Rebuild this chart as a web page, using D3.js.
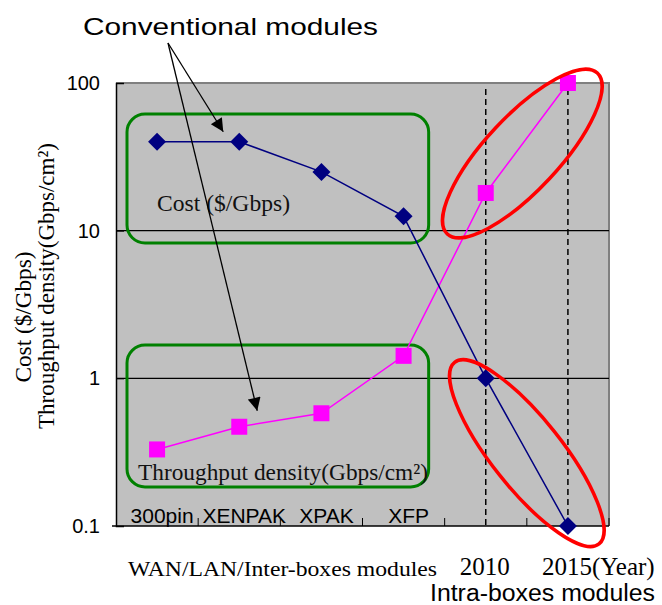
<!DOCTYPE html>
<html>
<head>
<meta charset="utf-8">
<script src="https://cdn.jsdelivr.net/npm/d3@7"></script>
<style>
  body { margin: 0; background: #fff; }
  .sans { font-family: "Liberation Sans", Arial, sans-serif; }
  .serif { font-family: "Liberation Serif", "Times New Roman", serif; }
</style>
</head>
<body>
<script>
// data
var categories = ["300pin", "XENPAK", "XPAK", "XFP", "2010", "2015"];
var costValues = [40, 40, 25, 12.5, 1, 0.1];
var densityValues = [0.33, 0.47, 0.58, 1.42, 18, 100];
var yTicks = [0.1, 1, 10, 100];
var yTickLabels = ["0.1", "1", "10", "100"];
var gridValues = [1, 10];
var yearCategories = ["2010", "2015"];
var yearLabels = ["2010", "2015(Year)"];

// set the dimensions of the graph
var width = 662, height = 605;
var plot = {left: 116, right: 609, top: 83, bottom: 526};

var x = d3.scaleBand().domain(categories).range([plot.left, plot.right]).padding(0);
var y = d3.scaleLog().domain([0.1, 100]).range([plot.bottom, plot.top]);
var bw = x.bandwidth();
function cx(c) { return x(c) + bw / 2; }

var svg = d3.select("body").append("svg")
    .attr("width", width)
    .attr("height", height);

// plot background
svg.append("rect")
    .attr("x", plot.left).attr("y", plot.top)
    .attr("width", plot.right - plot.left)
    .attr("height", plot.bottom - plot.top)
    .attr("fill", "#c0c0c0");

// gray frame top/right
svg.append("path")
    .attr("d", "M" + plot.left + "," + plot.top + "H" + plot.right + "V" + plot.bottom)
    .attr("fill", "none").attr("stroke", "#808080").attr("stroke-width", 2);

// gridlines
svg.selectAll(".grid").data(gridValues).enter().append("line")
    .attr("x1", plot.left).attr("x2", plot.right)
    .attr("y1", function(d) { return y(d); }).attr("y2", function(d) { return y(d); })
    .attr("stroke", "#000").attr("stroke-width", 1.3);

// dashed year lines
svg.selectAll(".year").data(yearCategories).enter().append("line")
    .attr("x1", cx).attr("x2", cx)
    .attr("y1", plot.top + 6).attr("y2", plot.bottom)
    .attr("stroke", "#000").attr("stroke-width", 1.5)
    .attr("stroke-dasharray", "6,4");

// axes
var yAxis = d3.axisRight(y).tickValues(yTicks).tickSize(8).tickFormat("");
svg.append("g")
    .attr("transform", "translate(" + plot.left + ",0)")
    .call(yAxis)
    .call(function(g) { g.select(".domain").attr("stroke-width", 1.5); });

svg.selectAll(".ylab").data(yTicks).enter().append("text")
    .attr("class", "sans")
    .attr("x", 100).attr("y", function(d) { return y(d) + 7; })
    .attr("text-anchor", "end").attr("font-size", 20)
    .text(function(d, i) { return yTickLabels[i]; });

var xAxis = d3.axisTop(x).tickSize(8).tickFormat("");
var gX = svg.append("g")
    .attr("transform", "translate(0," + plot.bottom + ")")
    .call(xAxis);
gX.select(".domain").attr("stroke-width", 1.5).attr("d", "M" + (plot.left - 4) + ",0H" + plot.right);
// ticks at band boundaries instead of centres
gX.selectAll(".tick").attr("transform", function(d) { return "translate(" + x(d) + ",0)"; });
gX.selectAll(".tick").filter(function(d, i) { return i === 0; }).remove();
gX.append("line").attr("x1", plot.right).attr("x2", plot.right).attr("y1", 0).attr("y2", -8).attr("stroke", "#000");

// category labels inside plot
svg.selectAll(".clab").data(categories.slice(0, 4)).enter().append("text")
    .attr("class", "sans")
    .attr("x", function(d) { return cx(d) + 5; }).attr("y", plot.bottom - 3)
    .attr("text-anchor", "middle").attr("font-size", 21)
    .text(function(d) { return d; });

// green boxes
var boxes = [
  {from: "300pin", to: "XFP", hi: 61.6, lo: 8.25},
  {from: "300pin", to: "XFP", hi: 1.68, lo: 0.184}
];
svg.selectAll(".box").data(boxes).enter().append("rect")
    .attr("x", function(d) { return x(d.from) + 11; })
    .attr("y", function(d) { return y(d.hi); })
    .attr("width", function(d) { return x(d.to) + bw - 16 - x(d.from) - 11; })
    .attr("height", function(d) { return y(d.lo) - y(d.hi); })
    .attr("rx", 18).attr("ry", 18)
    .attr("fill", "none").attr("stroke", "#008000").attr("stroke-width", 3);

svg.append("text").attr("class", "serif")
    .attr("x", 157).attr("y", 211).attr("font-size", 23)
    .attr("textLength", 133).attr("lengthAdjust", "spacingAndGlyphs")
    .attr("fill", "#111")
    .text("Cost ($/Gbps)");
svg.append("text").attr("class", "serif")
    .attr("x", 138).attr("y", 480).attr("font-size", 23)
    .attr("textLength", 290).attr("lengthAdjust", "spacingAndGlyphs")
    .attr("fill", "#111")
    .text("Throughput density(Gbps/cm²)");

// lines
var line = function(vals) {
  return d3.line()
    .x(function(d, i) { return cx(categories[i]); })
    .y(function(d) { return y(d); })(vals);
};
svg.append("path").attr("d", line(densityValues))
    .attr("fill", "none").attr("stroke", "#ff00ff").attr("stroke-width", 1.5);
svg.append("path").attr("d", line(costValues))
    .attr("fill", "none").attr("stroke", "#000080").attr("stroke-width", 1.5);

// markers
svg.selectAll(".sq").data(densityValues).enter().append("rect")
    .attr("x", function(d, i) { return cx(categories[i]) - 8; })
    .attr("y", function(d) { return y(d) - 8; })
    .attr("width", 16).attr("height", 16)
    .attr("fill", "#ff00ff");
svg.selectAll(".dm").data(costValues).enter().append("path")
    .attr("transform", function(d, i) { return "translate(" + cx(categories[i]) + "," + y(d) + ")"; })
    .attr("d", "M0,-9L9,0L0,9L-9,0Z")
    .attr("fill", "#000080");

// red ellipses around the intra-box points
function ellipse(vals, dx, dy, ang, rx, ry) {
  var x1 = cx("2010"), y1 = y(vals[4]), x2 = cx("2015"), y2 = y(vals[5]);
  svg.append("ellipse")
      .attr("transform", "translate(" + ((x1 + x2) / 2 + dx) + "," + ((y1 + y2) / 2 + dy) + ") rotate(" + ang + ")")
      .attr("rx", rx).attr("ry", ry)
      .attr("fill", "none").attr("stroke", "#ff0000").attr("stroke-width", 3.5);
}
ellipse(densityValues, -4.5, 15.5, -47, 110, 37);
ellipse(costValues, 0, 1, 51.5, 116, 35);

// arrows from the annotation
svg.append("defs").append("marker")
    .attr("id", "arrow").attr("viewBox", "0 0 10 10")
    .attr("refX", 10).attr("refY", 5)
    .attr("markerWidth", 16).attr("markerHeight", 13)
    .attr("markerUnits", "userSpaceOnUse")
    .attr("orient", "auto")
  .append("path").attr("d", "M0,0L10,5L0,10Z").attr("fill", "#000");

var arrowTargets = [
  [cx("XENPAK") - 16, y(costValues[1]) - 10],
  [cx("XENPAK") + 18, y(densityValues[1]) - 16]
];
svg.selectAll(".arrow").data(arrowTargets).enter().append("line")
    .attr("x1", 168).attr("y1", 43)
    .attr("x2", function(d) { return d[0]; }).attr("y2", function(d) { return d[1]; })
    .attr("stroke", "#000").attr("stroke-width", 1.3)
    .attr("marker-end", "url(#arrow)");

svg.append("text").attr("class", "sans")
    .attr("x", 83).attr("y", 35).attr("font-size", 24)
    .attr("textLength", 295).attr("lengthAdjust", "spacingAndGlyphs")
    .text("Conventional modules");

// y axis title
svg.append("text").attr("class", "serif")
    .attr("transform", "translate(31,317) rotate(-90)")
    .attr("text-anchor", "middle").attr("font-size", 23)
    .attr("textLength", 131).attr("lengthAdjust", "spacingAndGlyphs")
    .text("Cost ($/Gbps)");
svg.append("text").attr("class", "serif")
    .attr("transform", "translate(54,286) rotate(-90)")
    .attr("text-anchor", "middle").attr("font-size", 23)
    .attr("textLength", 286).attr("lengthAdjust", "spacingAndGlyphs")
    .text("Throughput density(Gbps/cm²)");

// bottom labels
svg.append("text").attr("class", "serif")
    .attr("x", 128).attr("y", 576).attr("font-size", 21.5)
    .attr("textLength", 309).attr("lengthAdjust", "spacingAndGlyphs")
    .text("WAN/LAN/Inter-boxes modules");
svg.selectAll(".yrlab").data(yearCategories).enter().append("text")
    .attr("class", "serif")
    .attr("x", function(d) { return cx(d) - 26; }).attr("y", 575)
    .attr("font-size", 25)
    .text(function(d, i) { return yearLabels[i]; });
svg.append("text").attr("class", "sans")
    .attr("x", 430).attr("y", 601).attr("font-size", 23)
    .attr("textLength", 225).attr("lengthAdjust", "spacingAndGlyphs")
    .text("Intra-boxes modules");
</script>
</body>
</html>
